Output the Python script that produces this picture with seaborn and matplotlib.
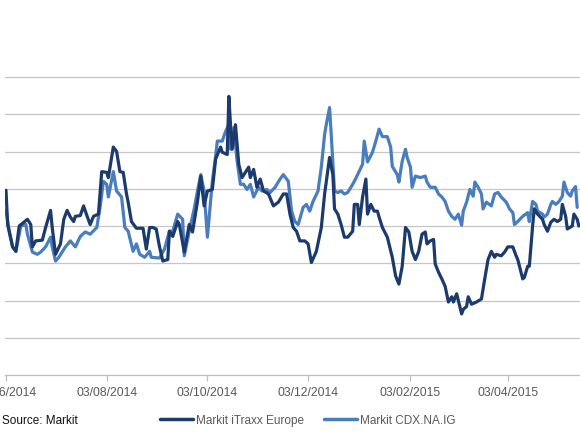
import numpy as np
import pandas as pd
import matplotlib
matplotlib.use("Agg")
import matplotlib.pyplot as plt
import matplotlib.dates as mdates
from matplotlib.lines import Line2D
import seaborn as sns

# ---------------- data (days since 2014-06-03, spread index) ----------------
start_date = "2014-06-03"

itraxx_days = [0, 1, 4, 6, 8, 13, 15, 16, 18, 22, 24, 27, 28, 30, 33, 35, 37, 39, 41, 42,
               45, 47, 49, 51, 53, 56, 58, 61, 62, 65, 67, 69, 71, 73, 74, 76, 79, 83, 85, 87,
               89, 91, 93, 95, 98, 99, 101, 104, 105, 108, 111, 113, 116, 118, 120, 122, 125, 127, 130, 131,
               134, 135, 136, 137, 139, 141, 143, 145, 147, 148, 150, 152, 154, 156, 159, 162, 165, 168, 170, 172,
               174, 176, 178, 181, 183, 185, 188, 191, 193, 196, 198, 199, 201, 203, 205, 207, 210, 211, 213, 214,
               216, 218, 219, 221, 223, 225, 226, 228, 231, 234, 236, 238, 240, 242, 244, 246, 248, 250, 252, 254,
               255, 257, 259, 260, 262, 264, 266, 268, 270, 271, 273, 276, 277, 279, 280, 282, 285, 288, 290, 292,
               294, 296, 297, 300, 302, 304, 307, 309, 310, 313, 314, 316, 317, 319, 320, 322, 325, 326, 328, 330,
               332, 334, 336, 337, 339, 340, 343, 344, 346, 347]
itraxx_vals = [64.8, 60.2, 57.2, 56.6, 60.0, 60.9, 60.2, 57.2, 58.0, 58.1, 59.8, 62.1, 59.8, 56.2, 57.6, 60.9, 62.1, 61.2, 60.6, 61.3,
               61.4, 62.7, 61.4, 60.2, 61.3, 61.6, 67.3, 67.2, 66.5, 70.6, 70.0, 67.3, 67.2, 64.3, 63.2, 60.6, 59.7, 59.7, 56.9, 59.8,
               59.8, 59.6, 57.2, 55.3, 55.5, 59.3, 58.6, 60.6, 60.2, 56.5, 60.2, 59.2, 63.3, 66.7, 62.7, 64.7, 64.9, 69.0, 70.6, 69.9,
               69.6, 77.4, 73.6, 70.3, 73.6, 68.3, 66.5, 67.2, 67.9, 66.5, 67.6, 65.2, 66.3, 64.7, 64.3, 62.7, 63.2, 64.3, 64.3, 61.6,
               59.8, 59.3, 58.0, 58.0, 57.6, 55.1, 56.6, 59.8, 64.3, 69.2, 66.9, 62.3, 61.6, 60.2, 58.5, 58.5, 59.3, 62.9, 62.9, 60.2,
               63.9, 66.3, 61.6, 62.9, 62.0, 62.0, 61.2, 59.8, 58.5, 55.8, 53.3, 52.2, 54.6, 59.8, 59.2, 56.6, 55.5, 56.6, 58.9, 59.2,
               57.6, 58.0, 58.2, 54.9, 53.8, 52.9, 51.9, 49.8, 50.5, 49.8, 50.9, 48.2, 48.8, 49.2, 50.5, 49.5, 49.8, 50.2, 52.9, 55.5,
               56.6, 55.8, 56.2, 56.0, 56.5, 57.2, 57.2, 56.0, 55.5, 52.9, 53.1, 54.6, 54.6, 60.0, 62.3, 61.6, 60.9, 60.2, 59.3, 60.5,
               60.9, 60.6, 60.9, 62.9, 61.3, 59.6, 60.0, 61.6, 60.9, 60.0]

cdx_days = [0, 2, 4, 6, 9, 12, 13, 16, 19, 21, 24, 27, 28, 30, 32, 36, 39, 42, 45, 48,
            51, 55, 57, 59, 61, 62, 65, 67, 70, 72, 74, 77, 79, 81, 84, 87, 88, 93, 96, 99,
            101, 104, 107, 108, 111, 114, 116, 118, 120, 122, 125, 127, 128, 131, 133, 135, 136, 138, 140, 142,
            144, 146, 148, 150, 153, 155, 158, 160, 163, 166, 168, 171, 173, 175, 177, 180, 182, 184, 186, 189,
            191, 193, 194, 196, 197, 199, 201, 203, 205, 207, 210, 211, 213, 216, 217, 219, 222, 224, 226, 228,
            231, 233, 234, 237, 238, 240, 242, 243, 245, 246, 248, 251, 254, 255, 257, 260, 262, 264, 266, 268,
            270, 272, 274, 276, 277, 279, 281, 283, 284, 286, 288, 289, 291, 294, 296, 298, 300, 303, 305, 307,
            308, 310, 313, 316, 317, 319, 321, 322, 325, 326, 328, 330, 331, 333, 335, 337, 338, 340, 342, 343,
            345, 346]
cdx_vals = [62.1, 59.3, 57.2, 56.6, 60.0, 60.2, 58.9, 56.5, 56.2, 56.5, 57.2, 58.5, 57.2, 55.3, 55.8, 57.2, 58.0, 57.2, 58.6, 59.2,
            58.9, 59.8, 62.5, 66.0, 65.6, 63.9, 67.3, 64.7, 63.9, 59.8, 59.3, 56.6, 57.6, 56.2, 55.8, 56.6, 55.8, 55.7, 56.9, 59.3,
            59.3, 61.6, 60.9, 56.0, 59.3, 62.3, 64.7, 66.9, 64.7, 58.5, 66.0, 69.4, 71.4, 71.4, 72.7, 73.6, 70.3, 73.2, 68.7, 65.6,
            65.6, 64.9, 65.6, 63.9, 65.2, 64.7, 64.9, 64.5, 65.2, 66.3, 66.9, 66.0, 62.0, 60.6, 60.2, 62.5, 62.9, 62.0, 63.3, 64.7,
            67.9, 72.3, 73.6, 75.9, 72.3, 64.7, 64.5, 64.7, 64.3, 64.5, 65.6, 66.0, 66.9, 68.3, 71.4, 68.6, 69.9, 71.4, 73.0, 72.0,
            72.0, 70.6, 68.0, 66.9, 65.9, 68.7, 70.3, 69.2, 67.9, 65.2, 66.7, 66.5, 66.7, 65.9, 65.2, 65.2, 64.3, 63.9, 63.3, 62.0,
            61.3, 60.9, 61.6, 60.1, 62.0, 63.2, 64.9, 64.0, 65.9, 65.2, 64.3, 62.3, 63.2, 62.7, 64.3, 64.5, 63.9, 63.2, 62.3, 61.8,
            60.2, 60.6, 61.3, 61.8, 60.6, 63.3, 62.9, 62.0, 61.6, 61.2, 61.6, 62.9, 63.3, 62.9, 63.3, 64.0, 65.9, 64.5, 64.0, 64.7,
            65.3, 62.5]

series_names = ["Markit iTraxx Europe", "Markit CDX.NA.IG"]
tick_dates = ["2014-06-03", "2014-08-03", "2014-10-03", "2014-12-03", "2015-02-03", "2015-04-03"]
grid_levels = [45, 50, 55, 60, 65, 70, 75, 80]
source_text = "Source: Markit"

# ---------------- build frame ----------------
t0 = pd.Timestamp(start_date)
df = pd.concat([
    pd.DataFrame({"date": t0 + pd.to_timedelta(cdx_days, unit="D"), "value": cdx_vals,
                  "series": series_names[1]}),
    pd.DataFrame({"date": t0 + pd.to_timedelta(itraxx_days, unit="D"), "value": itraxx_vals,
                  "series": series_names[0]}),
], ignore_index=True)

dark = "#1d3a6c"
light = "#4a7dbd"
palette = {series_names[0]: dark, series_names[1]: light}

sns.set_theme(style="white")
plt.rcParams["font.family"] = ["Liberation Sans", "DejaVu Sans"]

W, H = 580, 435
fig = plt.figure(figsize=(W / 100, H / 100), dpi=100)
# axes: x from px 5 to 580, y from px ~74 to 376
ax = fig.add_axes([5 / W, (H - 376) / H, 575 / W, (376 - 74.3) / H])

sns.lineplot(data=df, x="date", y="value", hue="series", palette=palette,
             hue_order=[series_names[1], series_names[0]],
             estimator=None, sort=True, linewidth=2.3, legend=False, ax=ax)

ax.set_ylim(40, 80.5)
ax.set_xlim(t0 - pd.Timedelta(days=0.6), t0 + pd.Timedelta(days=347.7))
ax.set_yticks(grid_levels)
ax.yaxis.grid(True, color="#c6c6c6", linewidth=0.9)
ax.xaxis.grid(False)
ax.tick_params(axis="y", left=False, labelleft=False)
ax.set_xticks(pd.to_datetime(tick_dates))
ax.xaxis.set_major_formatter(mdates.DateFormatter("%d/%m/%Y"))
ax.tick_params(axis="x", bottom=True, direction="out", length=4, width=0.9,
               color="#bfbfbf", labelsize=8.8, labelcolor="#595959", pad=4)
for side in ["top", "left", "right"]:
    ax.spines[side].set_visible(False)
ax.spines["bottom"].set_color("#bfbfbf")
ax.spines["bottom"].set_linewidth(0.9)
ax.set_xlabel("")
ax.set_ylabel("")
ax.set_axisbelow(True)

fig.text(2 / W, (H - 421) / H, source_text, fontsize=8.5, color="#111111",
         ha="left", va="center")

handles = [Line2D([0], [0], color=dark, lw=2.5), Line2D([0], [0], color=light, lw=2.5)]
fig.legend(handles, series_names, loc="center left", bbox_to_anchor=(160 / W, (H - 421) / H),
           ncol=2, frameon=False, fontsize=8.5, labelcolor="#595959", handlelength=2.8,
           handletextpad=0.25, columnspacing=1.7, borderpad=0, borderaxespad=0)

fig.savefig("out.png", dpi=100)
